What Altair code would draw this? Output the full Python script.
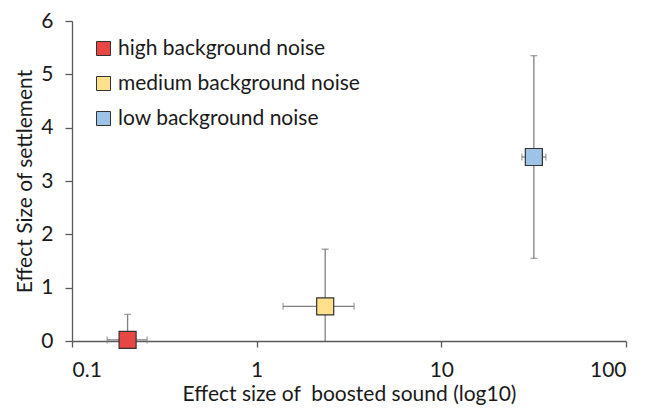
import altair as alt
import pandas as pd

categories = ["high background noise", "medium background noise", "low background noise"]
colors = ["#E84545", "#FFE08C", "#9DC3E6"]
x_val = [0.20, 2.35, 31.7]
x_lo = [0.155, 1.39, 27.3]
x_hi = [0.255, 3.37, 36.8]
y_val = [0.02, 0.65, 3.45]
y_lo = [0.0, 0.0, 1.55]
y_hi = [0.5, 1.72, 5.35]

df = pd.DataFrame({"cat": categories, "x": x_val, "xlo": x_lo, "xhi": x_hi,
                   "y": y_val, "ylo": y_lo, "yhi": y_hi})

FONT = "Lato"
xscale = alt.Scale(type="log", domain=[0.1, 100], nice=False)
yscale = alt.Scale(domain=[0, 6], nice=False)

base = alt.Chart(df)
err_col = "#808080"

xbar = base.mark_rule(color=err_col, strokeWidth=1.3).encode(
    x=alt.X("xlo:Q", scale=xscale), x2="xhi:Q", y=alt.Y("y:Q", scale=yscale))
ybar = base.mark_rule(color=err_col, strokeWidth=1.3).encode(
    x=alt.X("x:Q", scale=xscale), y=alt.Y("ylo:Q", scale=yscale), y2="yhi:Q")
xcap_lo = base.mark_tick(color=err_col, orient="vertical", size=7, thickness=1.3).encode(
    x=alt.X("xlo:Q", scale=xscale), y=alt.Y("y:Q", scale=yscale))
xcap_hi = base.mark_tick(color=err_col, orient="vertical", size=7, thickness=1.3).encode(
    x=alt.X("xhi:Q", scale=xscale), y=alt.Y("y:Q", scale=yscale))
ycap_hi = base.mark_tick(color=err_col, orient="horizontal", size=7, thickness=1.3).encode(
    x=alt.X("x:Q", scale=xscale), y=alt.Y("yhi:Q", scale=yscale))
ycap_lo = base.transform_filter("datum.ylo > 0").mark_tick(color=err_col, orient="horizontal", size=7, thickness=1.3).encode(
    x=alt.X("x:Q", scale=xscale), y=alt.Y("ylo:Q", scale=yscale))

points = base.mark_point(shape="square", filled=True, size=290, opacity=1,
                         stroke="#333333", strokeWidth=1.2).encode(
    x=alt.X("x:Q", scale=xscale,
            title="Effect size of\u00a0 boosted sound (log10)",
            axis=alt.Axis(values=[0.1, 1, 10, 100], format="~g", grid=False,
                          tickSize=6, labelPadding=12, titlePadding=3,
                          labelFontSize=21)),
    y=alt.Y("y:Q", scale=yscale, title="Effect Size of settlement",
            axis=alt.Axis(values=[0, 1, 2, 3, 4, 5, 6], format="d", grid=False,
                          tickSize=7, labelPadding=12, titlePadding=5,
                          labelFontSize=21)),
    color=alt.Color("cat:N", scale=alt.Scale(domain=categories, range=colors),
                    legend=alt.Legend(title=None, orient="none", legendX=21, legendY=17,
                                      symbolType="square", symbolSize=196,
                                      symbolStrokeColor="#333333", symbolStrokeWidth=1,
                                      labelFontSize=21, labelFont=FONT, labelColor="#1a1a1a",
                                      labelLimit=0, rowPadding=13, labelOffset=4)),
)

chart = alt.layer(xbar, ybar, xcap_lo, xcap_hi, ycap_hi, ycap_lo, points).properties(
    width=554, height=320,
    autosize=alt.AutoSizeParams(type="none"),
    padding={"left": 64, "top": 13, "right": 12, "bottom": 65},
).configure_view(stroke=None).configure_axis(
    domainColor="#595959", tickColor="#595959", domainWidth=1.3, tickWidth=1.3,
    labelFont=FONT, titleFont=FONT, titleFontSize=21,
    labelColor="#1a1a1a", titleColor="#1a1a1a", titleFontWeight="normal",
)

chart.save("out.html", embed_options={"renderer": "svg", "actions": False})
